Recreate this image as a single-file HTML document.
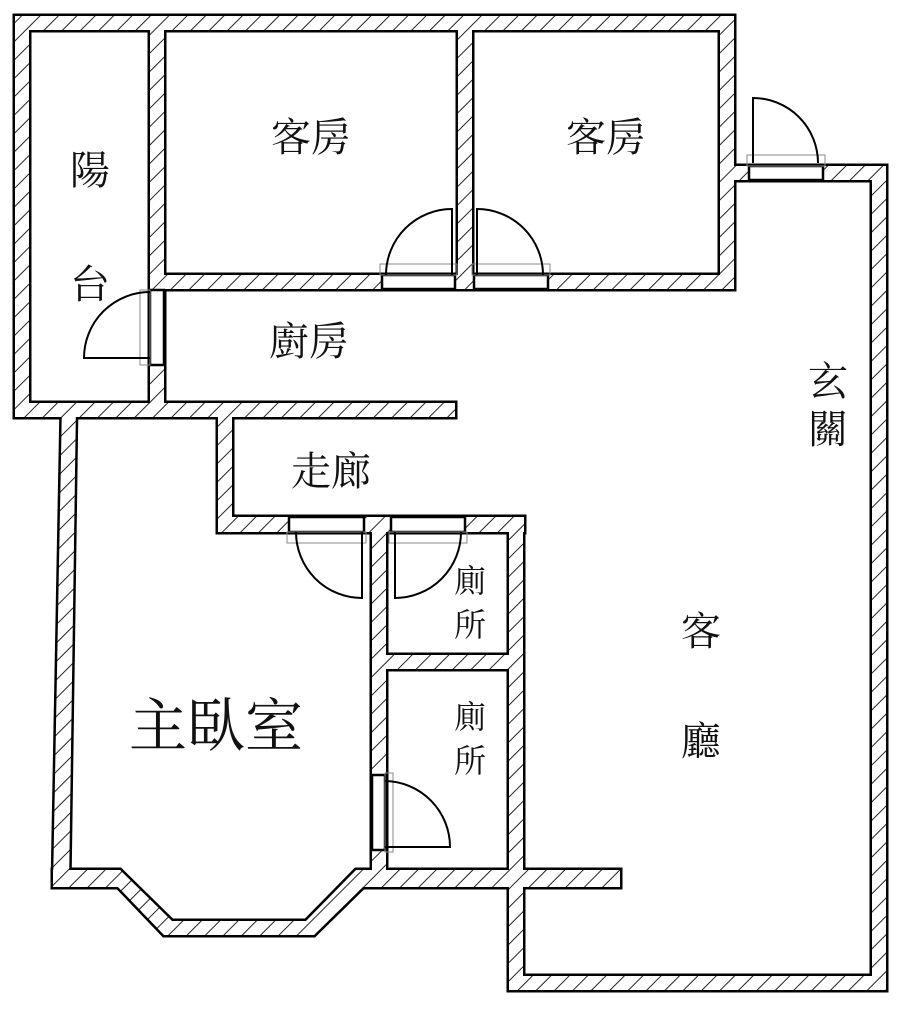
<!DOCTYPE html>
<html><head><meta charset="utf-8"><style>
html,body{margin:0;padding:0;background:#fff;}
svg{display:block;}
text{font-family:"Liberation Serif","Noto Serif CJK TC","Noto Serif CJK SC",serif;fill:#111;}
</style></head><body>
<svg width="900" height="1011" viewBox="0 0 900 1011" xmlns="http://www.w3.org/2000/svg">
<defs>
<pattern id="h" width="13" height="13" patternUnits="userSpaceOnUse" patternTransform="rotate(45)">
<rect width="13" height="13" fill="#fff"/>
<line x1="0" y1="0" x2="0" y2="13" stroke="#222" stroke-width="2"/>
</pattern>
<g id="w">
<rect x="15" y="16" width="719" height="14"/>
<rect x="15" y="16" width="14" height="401"/>
<rect x="150" y="16" width="14" height="401"/>
<rect x="458" y="16" width="14" height="273"/>
<rect x="720" y="16" width="14" height="273"/>
<rect x="150" y="275" width="584" height="14"/>
<rect x="720" y="166" width="166" height="14"/>
<rect x="872" y="166" width="14" height="824"/>
<rect x="15" y="403" width="440" height="14"/>
<rect x="218" y="403" width="14" height="129"/>
<rect x="218" y="517" width="306" height="15"/>
<rect x="372" y="517" width="14" height="370"/>
<rect x="509" y="517" width="14" height="473"/>
<rect x="372" y="655" width="151" height="14"/>
<polygon points="62,403 76,403 69,887 53,887"/>
<polygon points="53,870 120,870 172,921 306,921 356,870 620,870 620,887 363,887 314,935 164,935 118,887 53,887"/>
<rect x="509" y="976" width="377" height="14"/>
</g>
</defs>
<g stroke="#000" stroke-width="5" stroke-linejoin="miter" fill="#000"><use href="#w"/></g>
<g fill="url(#h)"><use href="#w"/></g>

<g fill="#fff" stroke="#000" stroke-width="2.5">
<rect x="382" y="275" width="73" height="14"/>
<rect x="474" y="275" width="74" height="14"/>
<rect x="749" y="166" width="74" height="14"/>
<rect x="150" y="290" width="14" height="75"/>
<rect x="289" y="517" width="75" height="15"/>
<rect x="391" y="517" width="74" height="15"/>
<rect x="372" y="775" width="13" height="75"/>
</g>
<g fill="none" stroke="#888" stroke-width="1">
<rect x="380" y="264" width="77" height="11"/>
<rect x="472" y="264" width="78" height="11"/>
<rect x="747" y="155" width="78" height="11"/>
<rect x="140" y="290" width="10" height="75"/>
<rect x="287" y="532" width="79" height="11"/>
<rect x="389" y="532" width="78" height="11"/>
<rect x="385" y="773" width="8" height="79"/>
</g>
<g fill="none" stroke="#000" stroke-width="2">
<path d="M452,275 V209 A66,66 0 0 0 386,275"/>
<path d="M477,275 V209 A66,66 0 0 1 543,275"/>
<path d="M753,163 V98 A65,65 0 0 1 818,163"/>
<path d="M150,358 H84 A66,66 0 0 1 150,292"/>
<path d="M362,532 V598 A66,66 0 0 1 296,532"/>
<path d="M395,532 V598 A66,66 0 0 0 461,532"/>
<path d="M385,847 H450 A66,66 0 0 0 385,781"/>
</g>

<g font-size="40">
<text x="90" y="184" text-anchor="middle">陽</text>
<text x="90" y="298" text-anchor="middle">台</text>
<text x="311" y="151" text-anchor="middle">客房</text>
<text x="606" y="151" text-anchor="middle">客房</text>
<text x="309" y="355" text-anchor="middle">廚房</text>
<text x="331" y="485" text-anchor="middle">走廊</text>
<text x="828" y="395" text-anchor="middle">玄</text>
<text x="828" y="443" text-anchor="middle">關</text>
<text x="701" y="645" text-anchor="middle">客</text>
<text x="701" y="755" text-anchor="middle">廳</text>
</g>
<g font-size="32">
<text x="470" y="592" text-anchor="middle">廁</text>
<text x="470" y="636" text-anchor="middle">所</text>
<text x="470" y="728" text-anchor="middle">廁</text>
<text x="470" y="772" text-anchor="middle">所</text>
</g>
<text x="216" y="746" font-size="58" text-anchor="middle">主臥室</text>
</svg>
</body></html>
